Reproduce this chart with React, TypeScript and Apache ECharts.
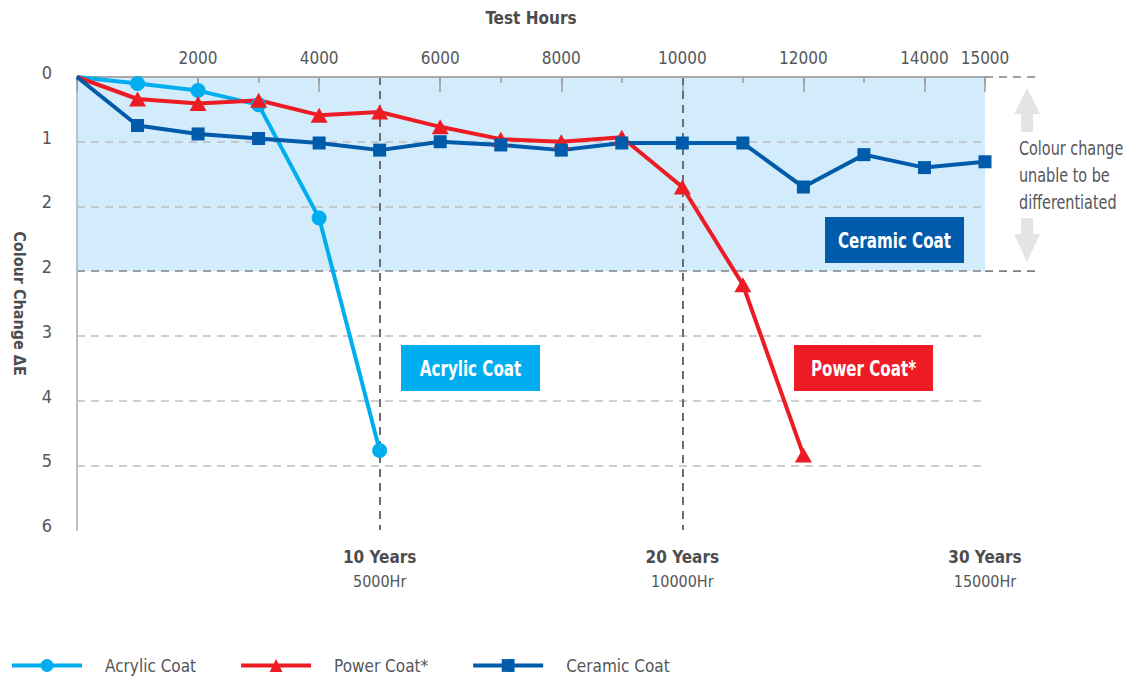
import React, { useEffect, useRef } from "react";
import * as echarts from "echarts";

const FONT = "'DejaVu Sans Condensed','Liberation Sans Narrow',sans-serif";

const hours = [0, 1000, 2000, 3000, 4000, 5000, 6000, 7000, 8000, 9000, 10000, 11000, 12000, 13000, 14000, 15000];
const acrylic = [0, 0.1, 0.21, 0.43, 2.18, 5.77];
const power = [0, 0.34, 0.41, 0.36, 0.59, 0.54, 0.77, 0.96, 1.0, 0.93, 1.7, 3.21, 5.84];
const ceramic = [0, 0.75, 0.88, 0.95, 1.02, 1.13, 1.0, 1.05, 1.13, 1.02, 1.02, 1.02, 1.7, 1.2, 1.4, 1.31];

const yTickLabels = ["0", "1", "2", "2", "3", "4", "5", "6"];
const topLabelValues = [2000, 4000, 6000, 8000, 10000, 12000, 14000, 15000];
const yearLabels = ["10 Years", "20 Years", "30 Years"];
const hourLabels = ["5000Hr", "10000Hr", "15000Hr"];
const sideNote = ["Colour change", "unable to be", "differentiated"];

const C_ACRYLIC = "#00aeef";
const C_POWER = "#ed1c24";
const C_CERAMIC = "#005baa";
const TXT = "#555659";
const TXT_B = "#4d4d4f";

// the common origin point carries no marker in the reference
const pairs = (vals: number[]) =>
  vals.map((v, i) => (i === 0 ? { value: [hours[i], v], symbol: "none" } : [hours[i], v]));

export default function App() {
  const ref = useRef<HTMLDivElement>(null);
  useEffect(() => {
    if (!ref.current) return;
    const chart = echarts.init(ref.current, undefined, { renderer: "svg" });
    const gridBox = { left: 77, top: 77, right: 143, bottom: 146, outerBoundsMode: "none", containLabel: false };
    const option: any = {
      animation: false,
      textStyle: { fontFamily: FONT },
      grid: [{ ...gridBox }, { ...gridBox }],
      legend: {
        left: 10,
        top: 657,
        padding: 0,
        itemWidth: 70,
        itemHeight: 16,
        itemGap: 43,
        lineStyle: { width: 4 },
        textStyle: { fontFamily: FONT, fontSize: 17, color: TXT, padding: [0, 0, 0, 18] },
        data: ["Acrylic Coat", "Power Coat*", "Ceramic Coat"],
      },
      xAxis: [
        {
          gridIndex: 0,
          type: "value",
          position: "top",
          min: 0,
          max: 15000,
          interval: 1000,
          axisLine: { show: false },
          axisTick: { show: true, inside: true, length: 6, lineStyle: { color: "#9a9b9d", width: 1.5 } },
          axisLabel: { show: false },
          splitLine: { show: false },
        },
        {
          gridIndex: 0,
          type: "value",
          position: "bottom",
          min: 0,
          max: 15000,
          interval: 5000,
          z: 1,
          axisLine: { show: true, lineStyle: { color: "#a7a9ac", width: 2 } },
          axisTick: { show: false },
          axisLabel: {
            margin: 14,
            formatter: (v: number) => {
              const i = v / 5000 - 1;
              if (i < 0 || i >= yearLabels.length) return "";
              return `{b|${yearLabels[i]}}\n{n|${hourLabels[i]}}`;
            },
            rich: {
              b: { fontFamily: FONT, fontSize: 17, fontWeight: "bold", color: TXT_B, lineHeight: 25 },
              n: { fontFamily: FONT, fontSize: 16, color: TXT, lineHeight: 25 },
            },
          },
          splitLine: {
            show: true,
            lineStyle: { color: ["transparent", "#6d6e71", "#6d6e71", "transparent"], width: 2, type: [8, 6] },
          },
        },
        {
          gridIndex: 1,
          type: "value",
          position: "top",
          min: 0,
          max: 15000,
          interval: 2000,
          name: "Test Hours",
          nameLocation: "middle",
          nameGap: 51,
          nameTextStyle: { fontFamily: FONT, fontSize: 17, fontWeight: "bold", color: TXT_B },
          axisLine: { show: false },
          axisTick: { show: true, inside: true, length: 15, lineStyle: { color: "#9a9b9d", width: 1.5 } },
          axisLabel: {
            margin: 11,
            fontFamily: FONT,
            fontSize: 17,
            color: TXT,
            showMaxLabel: true,
            formatter: (v: number) => (topLabelValues.indexOf(v) >= 0 ? String(v) : ""),
          },
          splitLine: { show: false },
        },
      ],
      yAxis: [
        {
          gridIndex: 0,
          type: "value",
          inverse: true,
          min: 0,
          max: 7,
          interval: 1,
          name: "Colour Change ΔE",
          nameLocation: "middle",
          nameGap: 50,
          nameRotate: -90,
          nameTextStyle: { fontFamily: FONT, fontSize: 16, fontWeight: "bold", color: TXT_B },
          axisLine: { show: true, lineStyle: { color: "#a7a9ac", width: 2 } },
          axisTick: { show: false },
          axisLabel: {
            margin: 25,
            formatter: (v: number) => (yTickLabels[v] !== undefined ? `{t|${yTickLabels[v]}}` : ""),
            rich: {
              t: { fontFamily: FONT, fontSize: 18, color: TXT, padding: [0, 0, 9, 0] },
            },
          },
          splitLine: {
            show: true,
            lineStyle: {
              color: ["#808184", "#bcbec0", "#bcbec0", "#808184", "#bcbec0", "#bcbec0", "#bcbec0", "transparent"],
              width: 1.6,
              type: [8, 6],
            },
          },
          splitArea: {
            show: true,
            areaStyle: { color: ["#d2ecfb", "#d2ecfb", "#d2ecfb", "rgba(0,0,0,0)", "rgba(0,0,0,0)", "rgba(0,0,0,0)", "rgba(0,0,0,0)"] },
          },
        },
        {
          gridIndex: 0,
          type: "value",
          position: "right",
          inverse: true,
          min: 0,
          max: 7,
          interval: 1,
          axisLine: { show: true, lineStyle: { color: "#c7c8ca", width: 1.5 } },
          axisTick: { show: false },
          axisLabel: { show: false },
          splitLine: { show: false },
        },
        {
          gridIndex: 1,
          type: "value",
          inverse: true,
          min: 0,
          max: 7,
          show: false,
        },
      ],
      series: [
        {
          name: "Acrylic Coat",
          type: "line",
          xAxisIndex: 0,
          yAxisIndex: 0,
          data: pairs(acrylic),
          symbol: "circle",
          symbolSize: 15,
          showAllSymbol: true,
          color: C_ACRYLIC,
          lineStyle: { width: 4, color: C_ACRYLIC },
          itemStyle: { color: C_ACRYLIC },
        },
        {
          name: "Power Coat*",
          type: "line",
          xAxisIndex: 0,
          yAxisIndex: 0,
          data: pairs(power),
          symbol: "triangle",
          symbolSize: [17, 15],
          showAllSymbol: true,
          color: C_POWER,
          lineStyle: { width: 4, color: C_POWER },
          itemStyle: { color: C_POWER },
        },
        {
          name: "Ceramic Coat",
          type: "line",
          xAxisIndex: 0,
          yAxisIndex: 0,
          data: pairs(ceramic),
          symbol: "rect",
          symbolSize: 13,
          showAllSymbol: true,
          color: C_CERAMIC,
          lineStyle: { width: 4, color: C_CERAMIC },
          itemStyle: { color: C_CERAMIC },
        },
      ],
    };
    chart.setOption(option);

    const p0 = chart.convertToPixel({ gridIndex: 0 }, [15000, 0]) as number[];
    const p3 = chart.convertToPixel({ gridIndex: 0 }, [15000, 3]) as number[];
    const extEnd = p0[0] + 50;
    const ax = p0[0] + 42;
    const noteX = p0[0] + 34;
    const box = (x: number, y: number, w: number, h: number, fill: string, text: string) => ({
      type: "group",
      children: [
        { type: "rect", shape: { x, y, width: w, height: h }, style: { fill } },
        {
          type: "text",
          x: x + w / 2,
          y: y + h / 2,
          scaleX: 0.8,
          style: { text, fill: "#fff", font: `bold 21px ${FONT}`, align: "center", verticalAlign: "middle" },
        },
      ],
    });
    chart.setOption({
      graphic: [
        {
          type: "line",
          z: 5,
          shape: { x1: p0[0], y1: p0[1], x2: extEnd, y2: p0[1] },
          style: { stroke: "#808184", lineWidth: 1.6, lineDash: [8, 6] },
        },
        {
          type: "line",
          z: 5,
          shape: { x1: p3[0], y1: p3[1], x2: extEnd, y2: p3[1] },
          style: { stroke: "#808184", lineWidth: 1.6, lineDash: [8, 6] },
        },
        {
          type: "polygon",
          shape: {
            points: [
              [ax, 88], [ax + 13, 114], [ax + 6, 114], [ax + 6, 132], [ax - 6, 132], [ax - 6, 114], [ax - 13, 114],
            ],
          },
          style: { fill: "#e3e4e5" },
        },
        {
          type: "polygon",
          shape: {
            points: [
              [ax, 262], [ax + 13, 234], [ax + 6, 234], [ax + 6, 218], [ax - 6, 218], [ax - 6, 234], [ax - 13, 234],
            ],
          },
          style: { fill: "#e3e4e5" },
        },
        ...sideNote.map((t, i) => ({
          type: "text",
          x: noteX,
          y: 148 + i * 27,
          scaleX: 0.8,
          style: { text: t, fill: TXT, font: `20px ${FONT}`, align: "left", verticalAlign: "middle" },
        })),
        box(825, 217, 139, 46, C_CERAMIC, "Ceramic Coat"),
        box(401, 345, 139, 46, C_ACRYLIC, "Acrylic Coat"),
        box(794, 345, 139, 46, C_POWER, "Power Coat*"),
      ],
    });

    return () => chart.dispose();
  }, []);
  return <div ref={ref} style={{ width: 1128, height: 676, position: "absolute", left: 0, top: 0 }} />;
}
